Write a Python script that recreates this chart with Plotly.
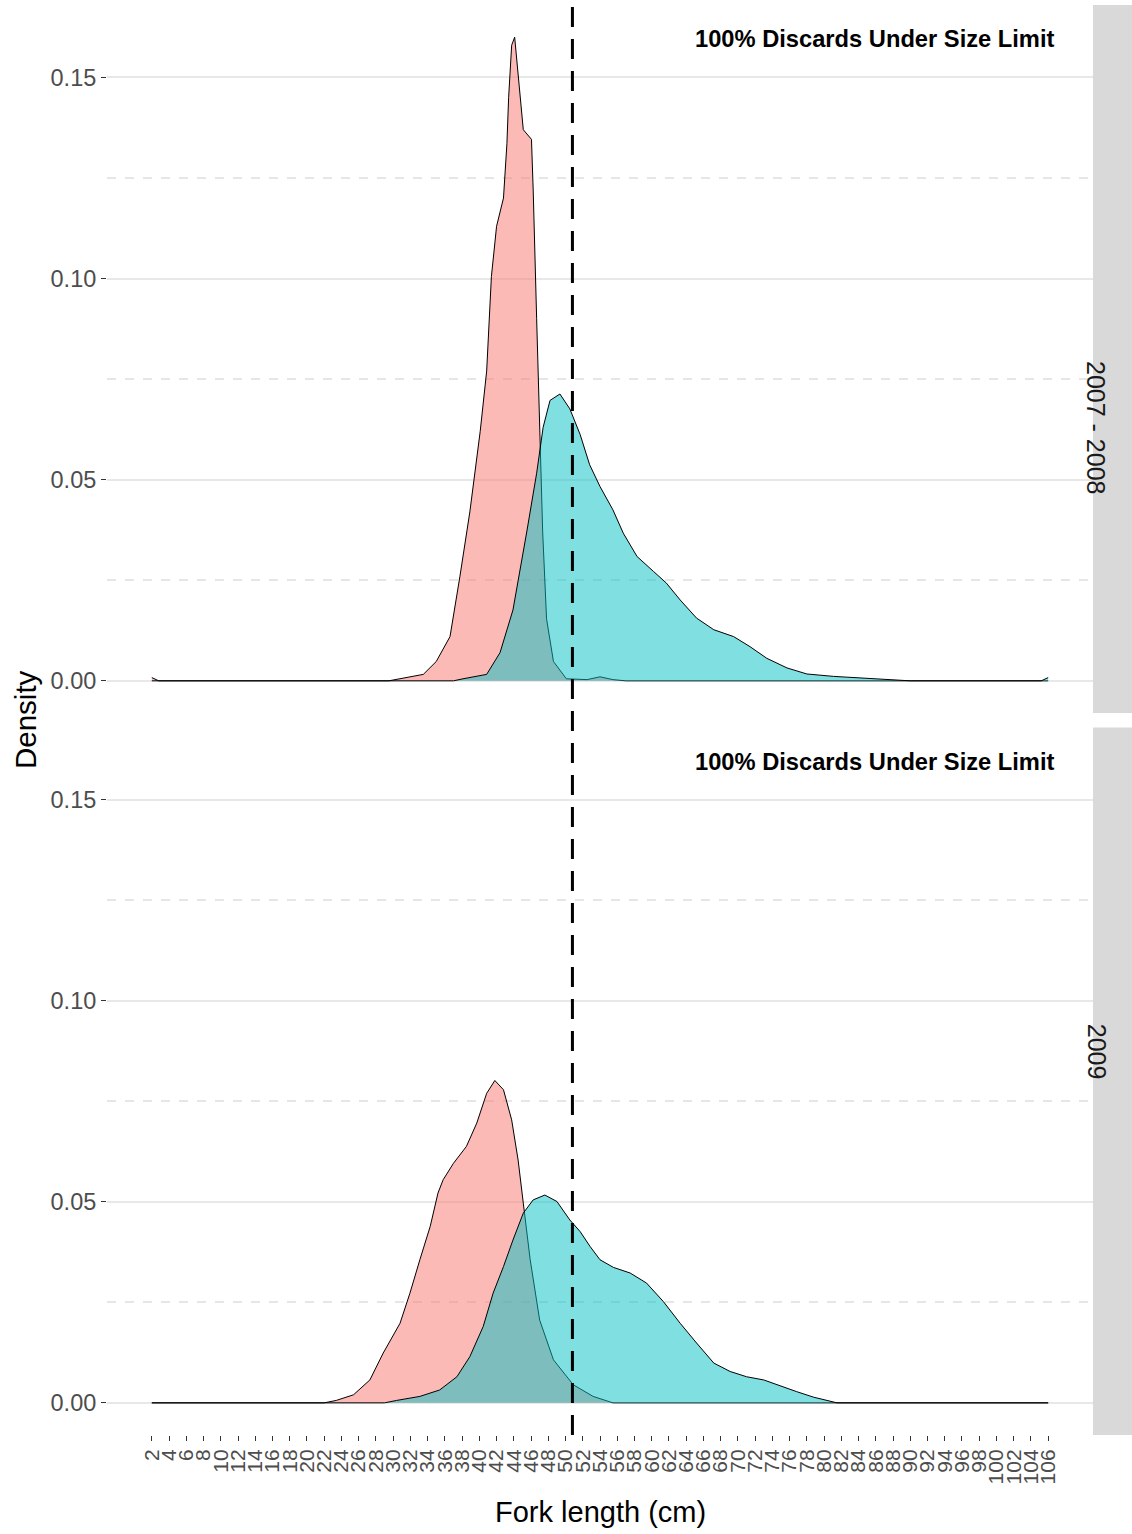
import plotly.graph_objects as go
from plotly.subplots import make_subplots

# ---------------- data ----------------
x_ticks = list(range(2, 107, 2))
x_tick_labels = [str(v) for v in x_ticks]
y_ticks = [0.0, 0.05, 0.10, 0.15]
y_tick_labels = ["0.00", "0.05", "0.10", "0.15"]
y_minor = [0.025, 0.075, 0.125]
size_limit = 50.8
panel_labels = ["2007 - 2008", "2009"]
note_text = "100% Discards Under Size Limit"

# panel 1 (2007 - 2008)
red_top_x = [2, 2.8, 29.5, 30.8, 32.2, 33.5, 35.0, 36.6, 37.75, 38.9, 40.1, 40.85, 41.4, 42.0,
             42.8, 43.2, 43.4, 43.75, 44.1, 44.5, 45.1, 46.05, 46.25, 46.65, 47.0, 47.35,
             47.8, 48.6, 50.1, 52.5, 54.0, 55.5, 57, 106]
red_top_d = [0.0008, 0, 0, 0.0005, 0.001, 0.0016, 0.0048, 0.011, 0.026, 0.042, 0.062, 0.077,
             0.1005, 0.113, 0.12, 0.1335, 0.145, 0.158, 0.160, 0.150, 0.137, 0.1346, 0.122,
             0.090, 0.062, 0.037, 0.0154, 0.0048, 0.0005, 0.0003, 0.001, 0.0003, 0, 0]

cyan_top_x = [2, 37, 38.1, 40.85, 42.4, 43.9, 45.5, 46.65, 47.4, 48.2, 49.35, 50.5, 51.7,
              52.8, 54.0, 55.5, 56.7, 58.3, 60.2, 61.7, 63.3, 65.2, 67.2, 69.5, 71.4, 73.35,
              75.7, 78.0, 81.1, 84.2, 87.3, 90, 105.2, 106]
cyan_top_d = [0, 0, 0.0005, 0.0016, 0.007, 0.0176, 0.037, 0.0516, 0.063, 0.0697, 0.0713,
              0.0676, 0.0612, 0.0537, 0.0483, 0.0425, 0.0367, 0.0309, 0.0272, 0.0243, 0.0201,
              0.0156, 0.0127, 0.011, 0.0085, 0.0056, 0.0032, 0.0017, 0.0011, 0.0007, 0.0004,
              0, 0, 0.0008]

# panel 2 (2009)
red_bot_x = [2, 22, 23.4, 25.4, 27.3, 28.85, 30.8, 31.95, 33.1, 34.3, 35.2, 35.8, 37.0, 38.5,
             39.7, 40.85, 41.8, 42.8, 43.75, 44.5, 45.1, 45.9, 47.0, 48.6, 50.9, 53.2, 55.5, 106]
red_bot_d = [0, 0, 0.0006, 0.002, 0.0057, 0.0124, 0.0198, 0.0273, 0.0356, 0.0439, 0.0522,
             0.0555, 0.0596, 0.0638, 0.0696, 0.077, 0.0802, 0.0779, 0.0704, 0.0604, 0.0497,
             0.0356, 0.0206, 0.0107, 0.0045, 0.0016, 0, 0]

cyan_bot_x = [2, 29, 30.4, 33.1, 35.4, 37.4, 38.9, 40.45, 41.6, 42.8, 43.9, 45.1, 46.25, 47.6,
              49.0, 50.5, 51.7, 52.85, 54.0, 55.55, 57.5, 59.4, 61.35, 63.3, 65.2, 67.2, 69.1,
              71.0, 73.0, 74.9, 76.8, 78.8, 80.3, 81.5, 106]
cyan_bot_d = [0, 0, 0.0006, 0.0016, 0.0032, 0.0065, 0.0115, 0.019, 0.0273, 0.0339, 0.0405,
              0.0472, 0.0505, 0.0517, 0.0501, 0.0455, 0.0426, 0.0389, 0.0356, 0.0337, 0.0323,
              0.0298, 0.0252, 0.0198, 0.0149, 0.0099, 0.0078, 0.0065, 0.0057, 0.0042, 0.0028,
              0.0014, 0.0007, 0, 0]

# ---------------- figure ----------------
W, H = 1132, 1534
ML, MR, MT, MB = 107, 39, 5, 99
FONT = "Liberation Sans, Arial, sans-serif"
RED_FILL = "rgba(248,118,109,0.5)"
CYAN_FILL = "rgba(0,191,196,0.5)"

fig = make_subplots(rows=2, cols=1, shared_xaxes=True)

panels = [
    (1, red_top_x, red_top_d, cyan_top_x, cyan_top_d),
    (2, red_bot_x, red_bot_d, cyan_bot_x, cyan_bot_d),
]
for row, rx, rd, cx, cd in panels:
    fig.add_trace(go.Scatter(x=rx, y=rd, mode="lines", fill="tozeroy",
                             fillcolor=RED_FILL, line=dict(color="black", width=1),
                             name="Discarded", showlegend=False), row=row, col=1)
    fig.add_trace(go.Scatter(x=cx, y=cd, mode="lines", fill="tozeroy",
                             fillcolor=CYAN_FILL, line=dict(color="black", width=1),
                             name="Retained", showlegend=False), row=row, col=1)

plot_h = H - MT - MB
plot_w = W - ML - MR
top_dom = [(1435 - 713) / plot_h, 1.0]
bot_dom = [0.0, (1435 - 727.6) / plot_h]

yaxis_common = dict(
    range=[-0.008, 0.168], tickvals=y_ticks, ticktext=y_tick_labels,
    ticks="outside", ticklen=5, tickcolor="#333333", tickwidth=1,
    tickfont=dict(family=FONT, size=23.5, color="#4D4D4D"),
    showgrid=True, gridcolor="#E8E8E8", gridwidth=1.8, zeroline=False, showline=False,
    minor=dict(tickvals=y_minor, showgrid=True, gridcolor="#E6E6E6", gridwidth=1.5,
               griddash="dash", ticks=""),
)
fig.update_layout(
    yaxis=dict(domain=top_dom, **yaxis_common),
    yaxis2=dict(domain=bot_dom, **yaxis_common),
)

xaxis_common = dict(range=[-3.2, 111.2], showgrid=False, zeroline=False, showline=False)
fig.update_layout(
    xaxis=dict(showticklabels=False, ticks="", **xaxis_common),
    xaxis2=dict(tickvals=x_ticks, ticktext=x_tick_labels, tickangle=-90,
                ticks="outside", ticklen=5, tickcolor="#333333", tickwidth=1,
                tickfont=dict(family=FONT, size=21, color="#4D4D4D"), **xaxis_common),
)

# dashed size-limit line across both panels
fig.add_shape(type="line", xref="x", yref="paper", x0=size_limit, x1=size_limit,
              y0=0, y1=1, line=dict(color="black", width=3, dash="20px,12px"))

# strips on the right
strip_x0 = 1.0
strip_x1 = (W - ML) / plot_w
for dom, lab in [(top_dom, panel_labels[0]), (bot_dom, panel_labels[1])]:
    fig.add_shape(type="rect", xref="paper", yref="paper", x0=strip_x0, x1=strip_x1,
                  y0=dom[0], y1=dom[1], fillcolor="#D9D9D9", line=dict(width=0), layer="below")
    fig.add_annotation(xref="paper", yref="paper", x=(strip_x0 + strip_x1) / 2,
                       y=(dom[0] + dom[1]) / 2, text=lab, textangle=90, showarrow=False,
                       font=dict(family=FONT, size=25, color="#1A1A1A"))

# in-panel notes
for yref in ["y", "y2"]:
    fig.add_annotation(xref="x", yref=yref, x=107.0, y=0.1595, text="<b>" + note_text + "</b>",
                       xanchor="right", yanchor="middle", showarrow=False,
                       font=dict(family=FONT, size=23.7, color="black"))

# axis titles
fig.add_annotation(xref="paper", yref="paper", x=0.5, y=-(1512 - 1435) / plot_h,
                   text="Fork length (cm)", showarrow=False, xanchor="center", yanchor="middle",
                   font=dict(family=FONT, size=29, color="black"))
fig.add_annotation(xref="paper", yref="paper", x=-(ML - 25) / plot_w, y=0.5,
                   text="Density", textangle=-90, showarrow=False, xanchor="center",
                   yanchor="middle", font=dict(family=FONT, size=29.5, color="black"))

fig.update_layout(
    width=W, height=H,
    margin=dict(l=ML, r=MR, t=MT, b=MB),
    paper_bgcolor="white", plot_bgcolor="white",
    showlegend=False,
)

fig.write_html("out.html", config={"displayModeBar": False},
               post_script="document.body.style.margin='0';")
